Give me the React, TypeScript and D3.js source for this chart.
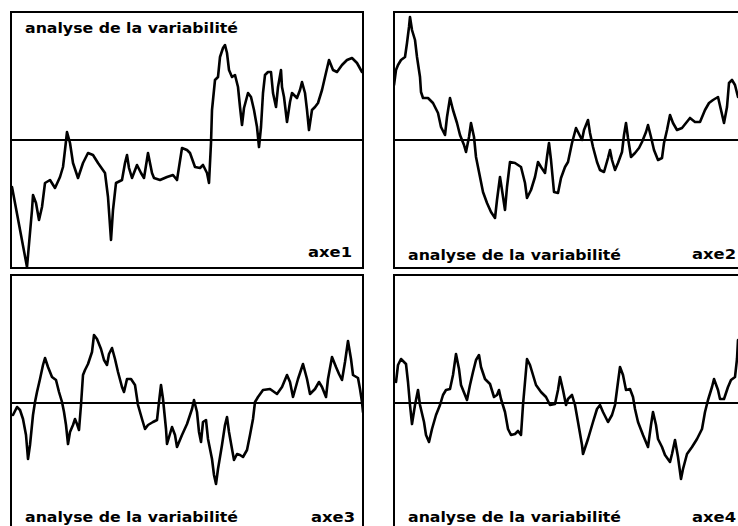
import React from "react";
import * as d3 from "d3";

// axe 1
const t1 = [1,16,21,22,25,28,31,34,39,44,49,52,54,56,59,62,67,72,77,82,87,94,97,100,102,105,111,114,116,118,121,126,130,133,137,141,143,149,156,162,166,171,176,179,184,189,192,196,198,200,201,204,207,209,212,214,216,218,221,224,227,229,231,233,237,240,243,246,248,250,252,254,257,260,262,265,267,270,271,273,276,279,281,286,289,291,294,296,298,301,304,307,311,314,318,322,326,331,336,341,346,351];
const v1 = [-47,-127,-70,-55,-63,-80,-67,-43,-40,-48,-37,-27,-10,8,-3,-23,-38,-23,-13,-15,-23,-33,-57,-100,-70,-43,-40,-23,-15,-28,-38,-25,-33,-38,-13,-33,-38,-40,-37,-35,-40,-8,-10,-13,-27,-28,-25,-33,-43,-3,30,60,63,83,92,95,87,70,63,65,53,33,15,32,47,43,30,13,-7,13,47,65,68,68,47,33,53,70,53,43,18,38,47,42,50,58,47,30,10,30,33,37,50,63,80,70,68,75,80,82,77,68];

// axe 2
const t2 = [0,2,4,7,11,13,15,16,18,21,23,26,27,29,34,39,44,47,51,53,56,59,63,66,70,72,75,77,80,82,86,89,93,97,101,103,106,108,111,113,116,121,127,131,133,137,141,144,147,151,153,155,157,160,164,167,171,174,178,182,184,188,190,194,196,199,203,206,210,214,216,218,221,224,228,230,232,234,237,241,245,248,252,254,257,260,264,268,270,273,276,279,283,288,292,296,301,306,311,315,319,324,327,330,333,335,338,341,344];
const v2 = [55,70,75,80,83,97,113,123,110,100,83,63,48,42,42,37,27,13,5,23,42,30,17,5,-5,-12,3,17,3,-17,-37,-52,-63,-72,-78,-60,-37,-50,-70,-47,-22,-23,-27,-43,-58,-50,-37,-22,-27,-33,-17,-3,-20,-52,-53,-38,-27,-22,-3,12,8,0,10,20,7,-7,-22,-30,-32,-18,-10,-20,-30,-23,-12,5,17,2,-17,-13,-8,-2,8,15,3,-10,-20,-18,-3,10,25,17,10,12,17,22,18,18,30,37,40,43,30,17,33,57,60,55,43];

// axe 3
const t3 = [2,6,9,12,15,17,19,22,24,26,29,32,34,37,41,45,48,51,53,55,57,59,62,64,66,68,70,72,74,77,81,83,86,90,93,96,98,101,104,107,111,113,116,120,124,127,131,134,137,142,146,148,150,152,155,156,161,164,166,171,176,179,181,183,186,188,190,192,195,197,201,203,205,207,211,214,216,218,221,223,226,229,232,236,239,242,244,247,252,259,266,271,276,279,282,287,292,296,299,304,308,311,315,317,321,325,328,331,334,337,340,342,347,349,351,352];
const v3 = [-12,-4,-7,-16,-32,-56,-42,-12,1,11,24,38,45,36,26,23,11,1,-9,-22,-41,-29,-22,-16,-21,-27,-2,28,33,39,51,68,64,54,43,38,49,55,44,31,16,11,24,24,18,-2,-16,-26,-22,-19,-17,1,18,4,-26,-41,-24,-32,-44,-32,-21,-12,-6,3,-9,-29,-39,-19,-17,-36,-56,-72,-81,-66,-42,-22,-14,-29,-46,-57,-51,-52,-54,-47,-32,-16,1,6,13,14,9,16,28,21,6,24,39,24,9,14,21,16,6,24,46,36,29,23,41,62,44,28,25,14,1,-9];

// axe 4
const t4 = [2,4,7,12,14,16,18,21,24,26,30,32,35,38,42,46,49,52,56,59,62,65,67,71,73,76,79,82,85,87,91,96,100,103,105,107,111,114,117,121,124,127,129,131,133,136,139,142,147,152,156,161,164,166,169,172,174,178,181,184,188,189,194,199,203,206,209,214,218,221,224,226,229,232,236,239,241,244,249,254,257,259,262,264,268,271,276,278,281,284,287,289,293,298,303,308,311,314,318,320,324,326,330,334,337,341,343,344];
const v4 = [21,38,44,39,21,-2,-21,-2,13,-2,-19,-32,-39,-26,-12,-2,8,13,14,28,49,34,18,8,3,18,31,43,48,36,24,19,6,8,13,4,-9,-26,-32,-31,-28,-32,-2,21,44,38,28,18,11,6,-2,-1,13,26,13,-2,4,8,-2,-19,-42,-51,-36,-19,-6,-2,-9,-19,-12,-2,21,36,28,13,14,6,-6,-19,-32,-44,-22,-9,-22,-36,-44,-52,-59,-51,-37,-54,-76,-66,-51,-44,-36,-26,-9,3,16,24,13,4,4,16,23,26,44,63];

const TITLE = "analyse de la variabilité";
const axisNames = ["axe1", "axe2", "axe3", "axe4"];
const seriesT = [t1, t2, t3, t4];
const seriesV = [v1, v2, v3, v4];

const W = 352;
const H = 256;
const panels = [
  { left: 11, top: 12, titleY: 33, nameEnd: 352, nameY: 257 },
  { left: 394, top: 12, titleY: 260, nameEnd: 736, nameY: 259 },
  { left: 11, top: 275, titleY: 522, nameEnd: 355, nameY: 522 },
  { left: 394, top: 275, titleY: 522, nameEnd: 736, nameY: 522 },
];

export default function App() {
  const font = "'DejaVu Sans', sans-serif";
  return (
    <svg width={738} height={526} style={{ position: "absolute", left: 0, top: 0, background: "#fff" }}>
      <rect x={0} y={0} width={738} height={526} fill="#fff" />
      {panels.map((p, i) => {
        const x = d3.scaleLinear().domain([0, W]).range([p.left, p.left + W]);
        const y = d3.scaleLinear().domain([-128, 128]).range([p.top + H, p.top]);
        const pts = seriesT[i].map((t, k) => [t, seriesV[i][k]] as [number, number]);
        const line = d3.line<[number, number]>().x((d) => x(d[0])).y((d) => y(d[1]));
        const clipId = `clip${i}`;
        return (
          <g key={i}>
            <defs>
              <clipPath id={clipId}>
                <rect x={p.left} y={p.top} width={W} height={H} />
              </clipPath>
            </defs>
            <rect x={p.left} y={p.top} width={W} height={H} fill="none" stroke="#000" strokeWidth={2} />
            <line x1={x(0)} x2={x(W)} y1={y(0)} y2={y(0)} stroke="#000" strokeWidth={2} />
            <path d={line(pts) || ""} fill="none" stroke="#000" strokeWidth={2.6} strokeLinejoin="round" strokeLinecap="round" clipPath={`url(#${clipId})`} />
            <text x={p.left + 14} y={p.titleY} fontFamily={font} fontWeight="bold" fontSize={14} textLength={213} lengthAdjust="spacingAndGlyphs" fill="#000">{TITLE}</text>
            <text x={p.nameEnd - 44} y={p.nameY} fontFamily={font} fontWeight="bold" fontSize={14} textLength={44} lengthAdjust="spacingAndGlyphs" fill="#000">{axisNames[i]}</text>
          </g>
        );
      })}
    </svg>
  );
}
